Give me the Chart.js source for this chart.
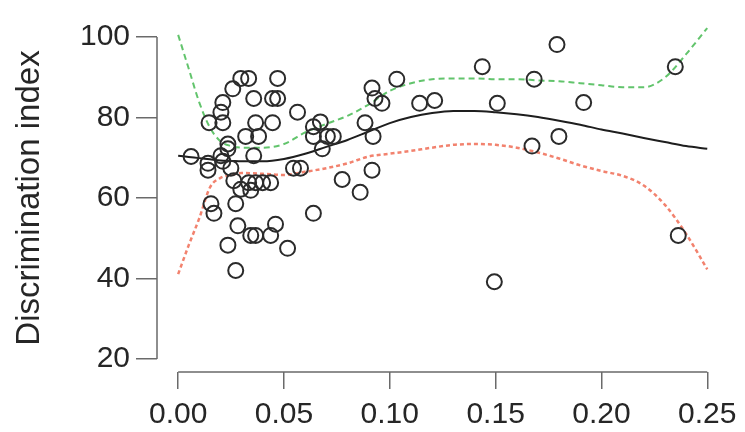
<!doctype html>
<html lang="en">
<head>
<meta charset="utf-8">
<title>Discrimination index</title>
<style>
  html, body { margin: 0; padding: 0; background: #fff; }
  #wrap { width: 745px; height: 432px; }
</style>
</head>
<body>
<div id="wrap"><canvas id="myChart" width="745" height="432"></canvas></div>

<script src="https://cdn.jsdelivr.net/npm/chart.js@4/dist/chart.umd.min.js"></script>
<script>
// observed points (x, discrimination index)
var pointX = [0.0061, 0.0141, 0.0141, 0.0146, 0.0211, 0.0211, 0.0202, 0.0258, 0.0296, 0.0333,
              0.0470, 0.0357, 0.0446, 0.0470, 0.0564, 0.0366, 0.0446, 0.0319, 0.0380, 0.0235,
              0.0235, 0.0202, 0.0211, 0.0357, 0.0249, 0.0263, 0.0296, 0.0333, 0.0366, 0.0399,
              0.0437, 0.0545, 0.0578, 0.0639, 0.0672, 0.0705, 0.0733, 0.0681, 0.0639, 0.0775,
              0.0860, 0.0155, 0.0169, 0.0272, 0.0282, 0.0343, 0.0366, 0.0437, 0.0460, 0.0235,
              0.0517, 0.0639, 0.0272, 0.1437, 0.1033, 0.0916, 0.0930, 0.0963, 0.1141, 0.1212,
              0.1508, 0.0883, 0.0921, 0.0916, 0.1790, 0.1682, 0.2349, 0.1916, 0.1799, 0.1672,
              0.2363, 0.1494, 0.0343]
var pointY = [70.3, 68.6, 66.9, 78.7, 78.7, 83.7, 81.3, 87.1, 89.7, 89.7,
              89.7, 84.7, 84.7, 84.7, 81.3, 78.7, 78.7, 75.3, 75.3, 73.4,
              72.2, 70.5, 69.1, 70.5, 67.4, 64.3, 62.2, 63.8, 63.8, 63.8,
              63.8, 67.4, 67.4, 77.7, 78.9, 75.3, 75.3, 72.2, 75.3, 64.6,
              61.4, 58.6, 56.2, 58.6, 53.1, 50.7, 50.7, 50.7, 53.5, 48.3,
              47.5, 56.2, 42.0, 92.6, 89.5, 87.3, 84.7, 83.5, 83.5, 84.2,
              83.5, 78.7, 75.3, 66.9, 98.1, 89.5, 92.6, 83.7, 75.3, 72.9,
              50.7, 39.2, 61.9]

// smoothed fit and its band
var curveX = [0, 0.005, 0.01, 0.015, 0.02, 0.025, 0.03, 0.04, 0.05, 0.06, 0.07, 0.08, 0.09, 0.10,
              0.11, 0.12, 0.13, 0.14, 0.15, 0.16, 0.17, 0.18, 0.19, 0.20, 0.21, 0.22, 0.23, 0.24, 0.25]
var fitY   = [70.5, 70.2, 69.9, 69.6, 69.3, 69.2, 69.1, 69.1, 69.7, 71.0, 72.7, 74.4, 76.5, 78.6,
              80.1, 81.1, 81.6, 81.6, 81.3, 80.8, 80.1, 79.2, 78.2, 77.0, 76.0, 74.9, 73.9, 72.9, 72.2]
var upperY = [100.5, 92.1, 83.7, 77.5, 74.1, 72.9, 72.5, 72.5, 73.4, 76.3, 78.4, 80.4, 83.2, 86.6,
              88.5, 89.5, 89.7, 89.7, 89.5, 89.5, 89.2, 89.0, 88.5, 88.0, 87.5, 87.5, 89.9, 95.7, 102.2]
var lowerY = [41.1, 48.3, 55.0, 62.6, 65.0, 65.7, 66.2, 66.0, 65.7, 66.5, 67.4, 68.6, 70.3, 71.0,
              71.7, 72.5, 73.2, 73.4, 73.2, 72.5, 71.3, 69.8, 68.1, 66.7, 65.5, 63.1, 58.3, 51.1, 42.3]

var xTicks = [0, 0.05, 0.10, 0.15, 0.20, 0.25]
var yTicks = [20, 40, 60, 80, 100]

function pairs(xs, ys) {
  return xs.map(function (x, i) { return { x: x, y: ys[i] } })
}

// R style axes: line only from first to last tick
var rAxes = {
  id: 'rAxes',
  afterDraw: function (chart) {
    var ctx = chart.ctx, area = chart.chartArea
    var xs = chart.scales.x, ys = chart.scales.y
    ctx.save()
    ctx.strokeStyle = '#6a6a6a'
    ctx.lineWidth = 1.5
    ctx.beginPath()
    ctx.moveTo(area.left, ys.getPixelForValue(yTicks[0]))
    ctx.lineTo(area.left, ys.getPixelForValue(yTicks[yTicks.length - 1]))
    ctx.moveTo(xs.getPixelForValue(xTicks[0]), area.bottom)
    ctx.lineTo(xs.getPixelForValue(xTicks[xTicks.length - 1]), area.bottom)
    ctx.stroke()
    ctx.restore()
  }
}

var font = 'Liberation Sans, Arial, Helvetica, sans-serif'

new Chart(document.getElementById('myChart').getContext('2d'), {
  type: 'scatter',
  data: {
    datasets: [
      {
        label: 'fit',
        data: pairs(curveX, fitY),
        showLine: true,
        borderColor: '#1e1e1e',
        borderWidth: 2,
        pointRadius: 0,
        cubicInterpolationMode: 'monotone',
        order: 1
      },
      {
        label: 'upper',
        data: pairs(curveX, upperY),
        showLine: true,
        borderColor: '#62c46c',
        borderWidth: 2,
        borderDash: [6, 4],
        pointRadius: 0,
        cubicInterpolationMode: 'monotone',
        order: 2
      },
      {
        label: 'lower',
        data: pairs(curveX, lowerY),
        showLine: true,
        borderColor: '#f2826e',
        borderWidth: 2.5,
        borderDash: [4, 3],
        pointRadius: 0,
        cubicInterpolationMode: 'monotone',
        order: 3
      },
      {
        label: 'obs',
        data: pairs(pointX, pointY),
        pointStyle: 'circle',
        pointRadius: 7.5,
        pointHoverRadius: 7.5,
        pointBorderWidth: 2,
        borderColor: '#2b2b2b',
        backgroundColor: 'rgba(0,0,0,0)',
        order: 0
      }
    ]
  },
  options: {
    responsive: false,
    animation: false,
    layout: { padding: { left: 0, right: 15, top: 11, bottom: 0 } },
    plugins: { legend: { display: false }, tooltip: { enabled: false } },
    scales: {
      x: {
        type: 'linear',
        min: -0.01,
        max: 0.26,
        afterBuildTicks: function (s) { s.ticks = xTicks.map(function (v) { return { value: v } }) },
        afterFit: function (s) { s.height = 60 },
        grid: { drawOnChartArea: false, drawTicks: true, tickLength: 17, color: '#6a6a6a', lineWidth: 1.5 },
        border: { display: false },
        ticks: {
          padding: 8,
          color: '#262626',
          font: { family: font, size: 30 },
          maxRotation: 0,
          callback: function (v) { return Number(v).toFixed(2) }
        }
      },
      y: {
        type: 'linear',
        min: 16.8,
        max: 103.2,
        afterBuildTicks: function (s) { s.ticks = yTicks.map(function (v) { return { value: v } }) },
        afterFit: function (s) { s.width = 157 },
        grid: { drawOnChartArea: false, drawTicks: true, tickLength: 21, color: '#6a6a6a', lineWidth: 1.5 },
        border: { display: false },
        title: {
          display: true,
          text: 'Discrimination index',
          color: '#262626',
          font: { family: font, size: 33 },
          padding: { top: 10, bottom: 0 }
        },
        ticks: {
          padding: 6,
          color: '#262626',
          font: { family: font, size: 30 }
        }
      }
    }
  },
  plugins: [rAxes]
})
</script>
</body>
</html>
